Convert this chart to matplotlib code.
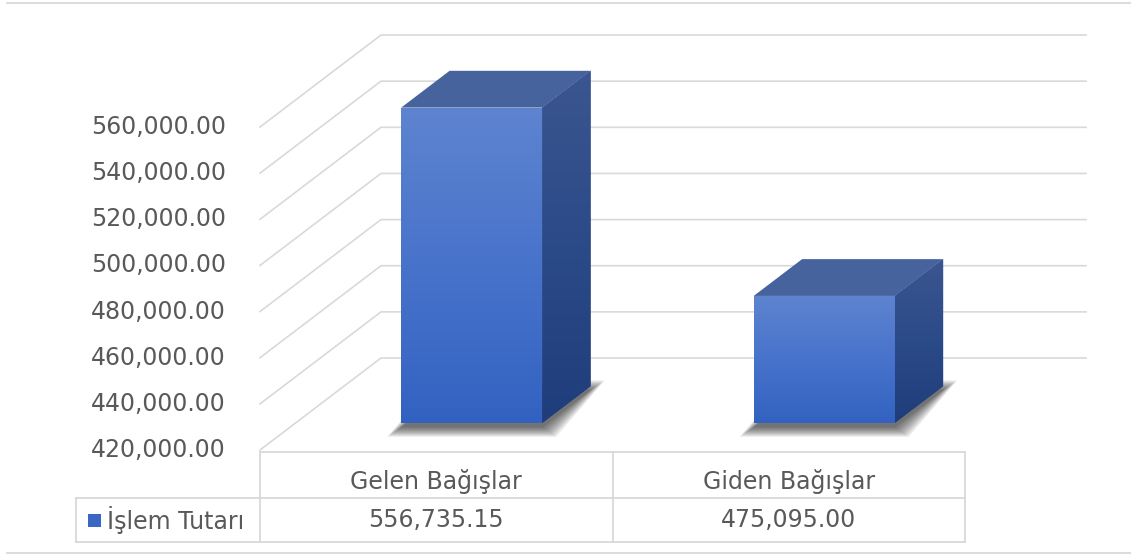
import numpy as np
import matplotlib
matplotlib.use("Agg")
import matplotlib.pyplot as plt
from matplotlib.patches import Polygon, Rectangle
from matplotlib.colors import LinearSegmentedColormap

# ---------------- data ----------------
categories = ["Gelen Bağışlar", "Giden Bağışlar"]
series_name = "İşlem Tutarı"
values = [556735.15, 475095.00]
y_ticks = [420000, 440000, 460000, 480000, 500000, 520000, 540000, 560000]

# ---------------- layout (pixel based oblique projection) ----------------
W, H = 1131, 557
DPI = 100
X0_PX = 260.0          # pixel x of category origin (front plane)
PX_PER_CAT = 352.5
FLOOR_PY = 450.0       # pixel y of base value at front
PX_PER_UNIT = 46.14 / 20000.0
BASE = y_ticks[0]
DEPTH_PX = (121.0, 92.0)   # oblique depth vector in pixels (right, up)

DX = DEPTH_PX[0] / PX_PER_CAT
DY = DEPTH_PX[1] / PX_PER_UNIT
PXX = 1.0 / PX_PER_CAT          # one pixel in x data units
PXY = 1.0 / PX_PER_UNIT         # one pixel in y data units


def P(x, v, d):
    return (x + d * DX, v + d * DY)


def px2data(px, py):
    return ((px - X0_PX) / PX_PER_CAT, BASE + (FLOOR_PY - py) / PX_PER_UNIT)


fig = plt.figure(figsize=(W / DPI, H / DPI), dpi=DPI)
ax = fig.add_axes([0, 0, 1, 1])
xl = px2data(0, 0)[0], px2data(W, 0)[0]
yl = px2data(0, H)[1], px2data(0, 0)[1]
ax.axis("off")

GRID = "#D9D9D9"
TXT = "#595959"
FONT = "DejaVu Sans"
FS = 17.0
ncat = len(categories)

# ---------------- walls / gridlines ----------------
for v in y_ticks:
    a = P(0, v, 0)
    b = P(0, v, 1)
    c = P(ncat, v, 1)
    ax.plot([a[0], b[0], c[0]], [a[1], b[1], c[1]], color=GRID, lw=1.2,
            solid_joinstyle="miter", zorder=1)
    tx, _ = px2data(226, 0)
    ax.text(tx, v, f"{v:,.2f}", ha="right", va="center", fontsize=FS,
            color=TXT, family=FONT)

# ---------------- bars ----------------
BAR_W = 0.40
D1, D2 = 0.293, 0.693
front_cmap = LinearSegmentedColormap.from_list("f", ["#5E84D0", "#4873CB", "#3262C1"])
side_cmap = LinearSegmentedColormap.from_list("s", ["#3B5690", "#2B4A88", "#1F3D7A"])
TOP_C = "#46639E"

for i, v in enumerate(values):
    xc = i + 0.5
    x0, x1 = xc - BAR_W / 2, xc + BAR_W / 2
    # shadow (layered dilated footprint)
    for r in np.arange(14, 0, -1.5):
        rx, ry = r * PXX, r * PXY * 0.7
        sh = 4 * PXY
        fp = [P(x0, BASE, D1), P(x1, BASE, D1), P(x1, BASE, D2), P(x0, BASE, D2)]
        fp = [(fp[0][0] - rx, fp[0][1] - ry - sh), (fp[1][0] + rx, fp[1][1] - ry - sh),
              (fp[2][0] + rx, fp[2][1] + ry - sh), (fp[3][0] - rx, fp[3][1] + ry - sh)]
        ax.add_patch(Polygon(fp, closed=True, facecolor="black", edgecolor="none",
                             alpha=0.075, zorder=2))
    # side face
    side = [P(x1, BASE, D1), P(x1, BASE, D2), P(x1, v, D2), P(x1, v, D1)]
    sp = Polygon(side, closed=True, facecolor="#2B4A88", edgecolor="none", zorder=3)
    ax.add_patch(sp)
    xs = [p[0] for p in side]
    ys = [p[1] for p in side]
    grad = np.linspace(0, 1, 256).reshape(-1, 1)
    im = ax.imshow(grad, cmap=side_cmap, aspect="auto", origin="upper",
                   extent=[min(xs), max(xs), min(ys), max(ys)], zorder=3.1,
                   interpolation="bilinear")
    im.set_clip_path(sp)
    # top face
    top = [P(x0, v, D1), P(x1, v, D1), P(x1, v, D2), P(x0, v, D2)]
    ax.add_patch(Polygon(top, closed=True, facecolor=TOP_C, edgecolor="none", zorder=3.2))
    # front face via bar
    fx, fy = P(xc, BASE, D1)
    bars = ax.bar([fx], [v - BASE], width=BAR_W, bottom=fy, color="#4873CB",
                  edgecolor="none", zorder=3.3)
    rect = bars.patches[0]
    im2 = ax.imshow(grad, cmap=front_cmap, aspect="auto", origin="upper",
                    extent=[fx - BAR_W / 2, fx + BAR_W / 2, fy, fy + v - BASE],
                    zorder=3.4, interpolation="bilinear")
    im2.set_clip_path(rect)

# ---------------- data table ----------------
def hline(px_a, px_b, py):
    a = px2data(px_a, py)
    b = px2data(px_b, py)
    ax.plot([a[0], b[0]], [a[1], b[1]], color=GRID, lw=1.3, zorder=1)


def vline(px, py_a, py_b):
    a = px2data(px, py_a)
    b = px2data(px, py_b)
    ax.plot([a[0], b[0]], [a[1], b[1]], color=GRID, lw=1.3, zorder=1)


hline(260, 965, 452)
hline(76, 965, 498)
hline(76, 965, 542)
vline(76, 498, 542)
for k in range(ncat + 1):
    vline(X0_PX + k * PX_PER_CAT, 452, 542)

for i, (c, v) in enumerate(zip(categories, values)):
    x = i + 0.5
    ax.text(x, px2data(0, 481)[1], c, ha="center", va="center", fontsize=FS,
            color=TXT, family=FONT)
    ax.text(x, px2data(0, 520)[1], f"{v:,.2f}", ha="center", va="center",
            fontsize=FS, color=TXT, family=FONT)

# legend key
lx0, ly0 = px2data(88, 527)
lx1, ly1 = px2data(101, 514)
ax.add_patch(Rectangle((lx0, ly0), lx1 - lx0, ly1 - ly0, facecolor="#3A66C4",
                       edgecolor="none", zorder=2))
ax.text(px2data(107, 0)[0], px2data(0, 520)[1], series_name, ha="left",
        va="center", fontsize=FS, color=TXT, family=FONT)

# chart frame lines
hline(7, W, 3)
hline(7, W, 553)

ax.set_xlim(*xl)
ax.set_ylim(*yl)
fig.savefig("out.png", dpi=DPI)
